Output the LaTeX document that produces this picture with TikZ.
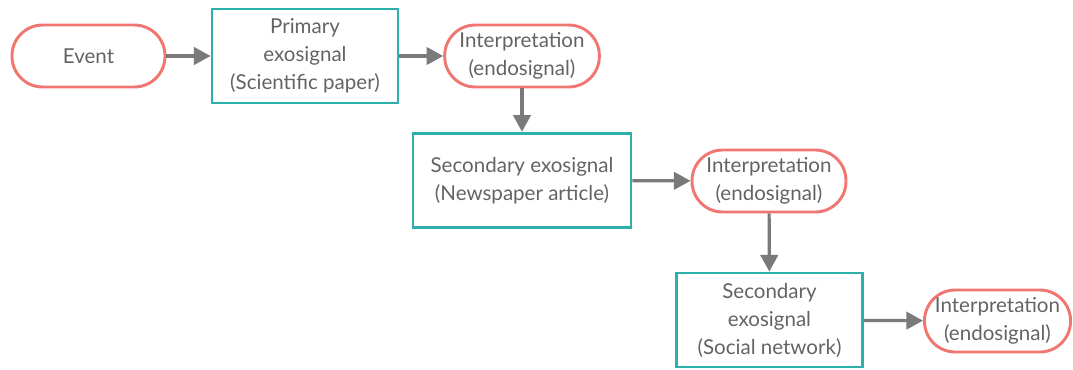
\documentclass[tikz,border=0pt]{standalone}
\usepackage{fontspec}
\setmainfont{Lato}
\usetikzlibrary{arrows.meta}
\definecolor{signred}{HTML}{F07672}
\definecolor{signteal}{HTML}{2BB0AC}
\definecolor{arrowgray}{HTML}{7A7A7A}
\definecolor{textgray}{HTML}{636363}
\begin{document}
\begin{tikzpicture}[x=0.75pt, y=-0.75pt,
        every node/.style={text=textgray, font=\fontsize{15.4}{21}\selectfont, align=center},
        endo/.style={draw=signred, line width=2.2pt, rounded corners=23pt, minimum height=46.5pt, inner sep=0pt},
        exo/.style={draw=signteal, line width=2.1pt, minimum height=70.5pt, inner sep=0pt},
        flow/.style={draw=arrowgray, line width=2.4pt, -{Triangle[length=12.5pt, width=13pt]}}]
        \useasboundingbox (0, 0) rectangle (1073, 369);
        \node[endo, minimum width=114.75pt] (event) at (88.5, 56) {Event};
        \node[exo, minimum width=139.5pt] (primary) at (305, 56) {Primary\\exosignal\\(Scientific paper)};
        \node[endo, minimum width=116pt] (interpA) at (522, 56) {Interpretation\\(endosignal)};
        \node[exo, minimum width=163.5pt, minimum height=71pt] (newspaper) at (522, 180.5) {Secondary exosignal\\(Newspaper article)};
        \node[endo, minimum width=115.5pt] (interpB) at (769, 181) {Interpretation\\(endosignal)};
        \node[exo, minimum width=139pt] (social) at (769.5, 320) {Secondary\\exosignal\\(Social network)};
        \node[endo, minimum width=109.5pt] (interpC) at (997.5, 321) {Interpretation\\(endosignal)};
        \draw[flow] (event) -- (primary);
        \draw[flow] (primary) -- (interpA);
        \draw[flow] (interpA) -- (newspaper);
        \draw[flow] (newspaper) -- (interpB);
        \draw[flow] (interpB) -- (social);
        \draw[flow] (social) -- (interpC);
    \end{tikzpicture}
\end{document}
